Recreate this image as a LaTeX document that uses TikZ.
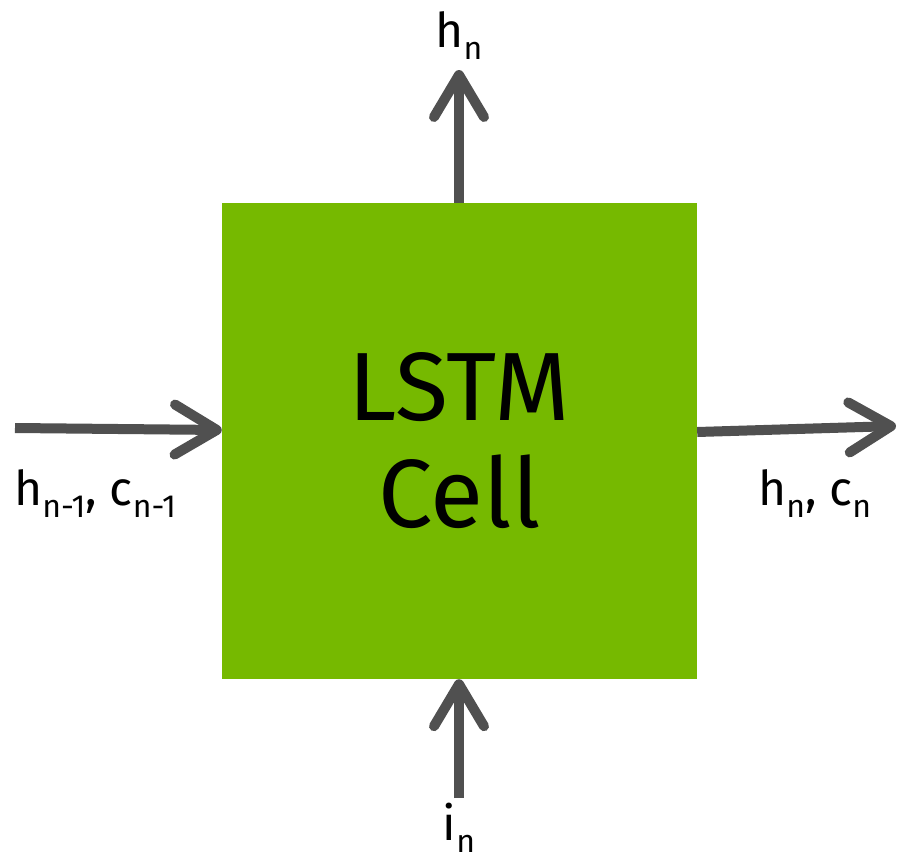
\documentclass[tikz,border=0pt]{standalone}
\usepackage{fontspec}
\setmainfont{Fira Sans}
\usetikzlibrary{arrows.meta}
\definecolor{nvgreen}{HTML}{76B900}
\definecolor{arrgrey}{HTML}{505050}
\newcommand{\lowsub}[1]{\raisebox{-12pt}{\fontsize{32}{32}\selectfont #1}}
\begin{document}
\begin{tikzpicture}[x=1pt,y=-1pt,
  conn/.style={draw=arrgrey, line width=10pt,
    -{Straight Barb[length=42pt,width=50pt,round]}},
  lbl/.style={font=\fontsize{48}{52}\selectfont, inner sep=0pt, text=black}]
\useasboundingbox (0,0) rectangle (900,862);
\node[fill=nvgreen, minimum width=475pt, minimum height=476pt, inner sep=0pt,
  align=center, font=\fontsize{97}{107}\selectfont] (cell) at (459.5,441) {LSTM\\Cell};
\coordinate (topend) at (459,70);
\coordinate (leftstart) at (15,428);
\coordinate (rightend) at (896,426);
\coordinate (botstart) at (459,798);
\draw[conn] (cell.north -| topend) -- (topend);
\draw[conn] (leftstart) -- (cell.west |- 0,430);
\draw[conn] (cell.east |- 0,432) -- (rightend);
\draw[conn] (botstart) -- (cell.south -| botstart);
\node[lbl, anchor=base] (lh) at (459,47) {h\lowsub{n}};
\node[lbl, anchor=base west] (lin) at (14,505) {h\lowsub{n-1}, c\lowsub{n-1}};
\node[lbl, anchor=base west] (lout) at (758,505) {h\lowsub{n}, c\lowsub{n}};
\node[lbl, anchor=base] (li) at (459,840) {i\lowsub{n}};
\end{tikzpicture}
\end{document}
